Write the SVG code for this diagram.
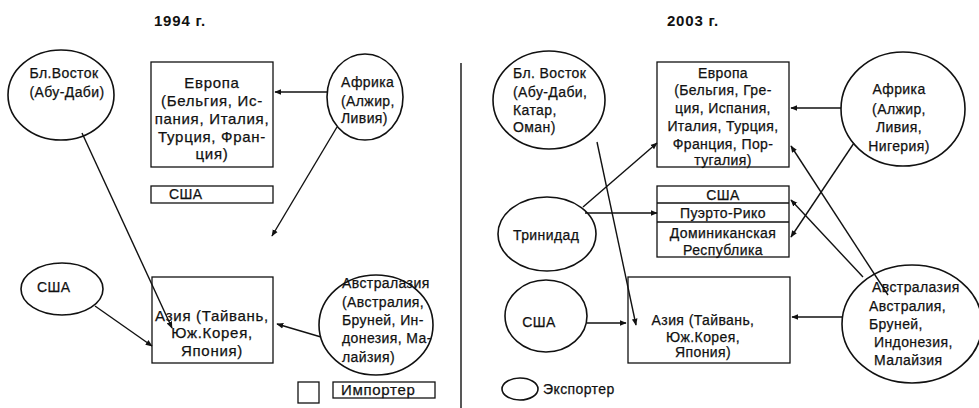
<svg xmlns="http://www.w3.org/2000/svg" width="979" height="408" viewBox="0 0 979 408">
  <style>
    text { font-family: "Liberation Sans", Arial, sans-serif; font-size: 14px; letter-spacing: 0.4px; fill: #111; stroke: #111; stroke-width: 0.25; }
    .c { text-anchor: middle; }
    .wide { font-size: 15px; letter-spacing: 0.7px; }
    .title { font-weight: bold; font-size: 15px; letter-spacing: 0.8px; stroke-width: 0; }
    .box { fill: #fff; stroke: #111; stroke-width: 1.3; }
    .oval { fill: #fff; stroke: #111; stroke-width: 1.6; }
    .link { stroke: #111; stroke-width: 1.4; fill: none; marker-end: url(#arrow); }
    .plain { stroke: #111; stroke-width: 1.4; fill: none; }
  </style>
  <defs>
    <marker id="arrow" viewBox="0 0 10 10" refX="9" refY="5" markerWidth="7" markerHeight="7" markerUnits="userSpaceOnUse" orient="auto">
      <path d="M0,1 L10,5 L0,9 z" fill="#111"/>
    </marker>
  </defs>

  <rect width="979" height="408" fill="#fff"/>

  <!-- headings and divider -->
  <text class="title c" x="180" y="26">1994 г.</text>
  <text class="title c" x="693" y="26">2003 г.</text>
  <line class="plain" x1="461" y1="63" x2="461" y2="408"/>

  <!-- ===== 1994 ===== -->
  <g id="mideast-1994">
    <ellipse class="oval" cx="61" cy="95" rx="53" ry="45"/>
    <text class="c" x="64" y="78">Бл.Восток</text>
    <text class="c" x="67" y="97">(Абу-Даби)</text>
  </g>
  <g id="europe-1994">
    <rect class="box" x="151" y="62" width="122" height="105"/>
    <text class="c wide" x="212" y="88">Европа</text>
    <text class="c wide" x="212" y="106">(Бельгия, Ис-</text>
    <text class="c wide" x="212" y="124">пания, Италия,</text>
    <text class="c wide" x="212" y="142">Турция, Фран-</text>
    <text class="c wide" x="212" y="159">ция)</text>
  </g>
  <g id="africa-1994">
    <ellipse class="oval" cx="365" cy="97" rx="38" ry="43"/>
    <text x="341" y="87">Африка</text>
    <text x="341" y="106">(Алжир,</text>
    <text x="341" y="123">Ливия)</text>
  </g>
  <g id="usa-1994">
    <rect class="box" x="151" y="186" width="122" height="17"/>
    <text x="169" y="199">США</text>
  </g>
  <g id="usa-exp-1994">
    <ellipse class="oval" cx="62" cy="289" rx="41" ry="26"/>
    <text x="37" y="292">США</text>
  </g>
  <g id="asia-1994">
    <rect class="box" x="152" y="277" width="121" height="86"/>
    <text class="c wide" x="212" y="321">Азия (Тайвань,</text>
    <text class="c wide" x="212" y="338">Юж.Корея,</text>
    <text class="c wide" x="212" y="356">Япония)</text>
  </g>
  <g id="australasia-1994">
    <ellipse class="oval" cx="376" cy="325" rx="57" ry="50"/>
    <text x="342" y="288">Австралазия</text>
    <text x="342" y="307">(Австралия,</text>
    <text x="342" y="325">Бруней, Ин-</text>
    <text x="342" y="343">донезия, Ма-</text>
    <text x="342" y="362">лайзия)</text>
  </g>
  <g id="legend-importer">
    <rect class="box" x="298" y="382" width="21" height="21"/>
    <rect class="box" x="333" y="382" width="102" height="16"/>
    <text class="wide" x="341" y="395">Импортер</text>
  </g>

  <!-- ===== 2003 ===== -->
  <g id="mideast-2003">
    <ellipse class="oval" cx="549" cy="100" rx="56" ry="49"/>
    <text x="513" y="78">Бл. Восток</text>
    <text x="513" y="97">(Абу-Даби,</text>
    <text x="513" y="115">Катар,</text>
    <text x="513" y="132">Оман)</text>
  </g>
  <g id="europe-2003">
    <rect class="box" x="657" y="62" width="132" height="105"/>
    <text class="c" x="723" y="78">Европа</text>
    <text class="c" x="723" y="95">(Бельгия, Гре-</text>
    <text class="c" x="723" y="113">ция, Испания,</text>
    <text class="c" x="723" y="131">Италия, Турция,</text>
    <text class="c" x="723" y="149">Франция, Пор-</text>
    <text class="c" x="723" y="165">тугалия)</text>
  </g>
  <g id="africa-2003">
    <ellipse class="oval" cx="903" cy="109" rx="62" ry="57"/>
    <text class="c" x="899" y="94">Африка</text>
    <text class="c" x="899" y="114">(Алжир,</text>
    <text class="c" x="899" y="132">Ливия,</text>
    <text class="c" x="899" y="151">Нигерия)</text>
  </g>
  <g id="trinidad-2003">
    <ellipse class="oval" cx="547" cy="234" rx="49" ry="37"/>
    <text x="513" y="240">Тринидад</text>
  </g>
  <g id="americas-2003">
    <rect class="box" x="657" y="186" width="132" height="71"/>
    <line class="plain" x1="657" y1="203" x2="789" y2="203"/>
    <line class="plain" x1="657" y1="222" x2="789" y2="222"/>
    <text class="c" x="723" y="200">США</text>
    <text class="c" x="723" y="218">Пуэрто-Рико</text>
    <text class="c" x="723" y="238">Доминиканская</text>
    <text class="c" x="723" y="255">Республика</text>
  </g>
  <g id="usa-exp-2003">
    <ellipse class="oval" cx="546" cy="316" rx="41" ry="36"/>
    <text class="c" x="539" y="327">США</text>
  </g>
  <g id="asia-2003">
    <rect class="box" x="628" y="277" width="162" height="86"/>
    <text class="c" x="703" y="325">Азия (Тайвань,</text>
    <text class="c" x="703" y="342">Юж.Корея,</text>
    <text class="c" x="703" y="357">Япония)</text>
  </g>
  <g id="australasia-2003">
    <ellipse class="oval" cx="912" cy="324" rx="70" ry="59"/>
    <text x="872" y="292">Австралазия</text>
    <text x="869" y="311">Австралия,</text>
    <text x="869" y="329">Бруней,</text>
    <text x="874" y="347">Индонезия,</text>
    <text x="874" y="365">Малайзия</text>
  </g>
  <g id="legend-exporter">
    <ellipse class="oval" cx="520" cy="389" rx="18" ry="11"/>
    <text x="543" y="394">Экспортер</text>
  </g>

  <!-- connectors -->
  <g id="connectors">
    <line class="link" x1="82" y1="133" x2="172" y2="328"/>
    <line class="link" x1="327" y1="92" x2="275" y2="92"/>
    <line class="link" x1="337" y1="127" x2="272" y2="236"/>
    <line class="link" x1="95" y1="306" x2="152" y2="346"/>
    <line class="link" x1="321" y1="337" x2="277" y2="324"/>

    <line class="link" x1="597" y1="142" x2="636" y2="325"/>
    <line class="link" x1="583" y1="207" x2="657" y2="143"/>
    <line class="link" x1="585" y1="213" x2="657" y2="213"/>
    <line class="link" x1="841" y1="108" x2="791" y2="108"/>
    <line class="link" x1="854" y1="143" x2="791" y2="237"/>
    <line class="link" x1="888" y1="295" x2="791" y2="146"/>
    <line class="link" x1="863" y1="277" x2="791" y2="200"/>
    <line class="link" x1="843" y1="317" x2="792" y2="317"/>
    <line class="link" x1="587" y1="323" x2="626" y2="323"/>
  </g>
</svg>
